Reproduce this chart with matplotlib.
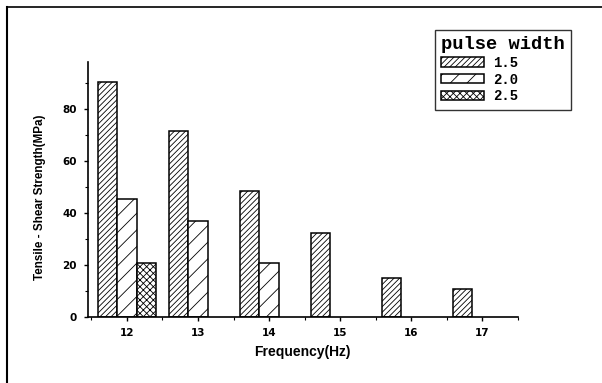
import numpy as np
import matplotlib.pyplot as plt
from matplotlib.lines import Line2D
from matplotlib.ticker import MultipleLocator

plt.rcParams['hatch.linewidth'] = 0.6

freq = [12, 13, 14, 15, 16, 17]
widths = ['1.5', '2.0', '2.5']
s15 = [90.5, 71.5, 48.5, 32.3, 15.0, 10.8]
s20 = [45.5, 37.0, 20.8, None, None, None]
s25 = [20.8, None, None, None, None, None]

fig = plt.figure(figsize=(6.02, 3.83), dpi=100)
ax = fig.add_axes([0.146, 0.172, 0.714, 0.666])

w = 0.275
x = np.array(freq, dtype=float)
series = [(s15, -w, '//////'), (s20, 0.0, '//'), (s25, w, 'xxxxx')]
handles = []
for vals, off, hatch in series:
    xs = [xi + off for xi, v in zip(x, vals) if v is not None]
    ys = [v for v in vals if v is not None]
    b = ax.bar(xs, ys, width=w, facecolor='white', edgecolor='black',
               hatch=hatch, linewidth=1.1)
    handles.append(b)

ax.set_xlim(11.45, 17.5)
ax.set_ylim(0, 98)
ax.set_xticks(freq)
ax.set_yticks([0, 20, 40, 60, 80])
ax.xaxis.set_minor_locator(MultipleLocator(0.5))
ax.yaxis.set_minor_locator(MultipleLocator(10))
for s in ['top', 'right']:
    ax.spines[s].set_visible(False)
for s in ['left', 'bottom']:
    ax.spines[s].set_linewidth(1.2)
ax.tick_params(axis='both', which='major', direction='out', length=3, width=1.0,
               labelsize=7.5)
ax.tick_params(axis='both', which='minor', direction='out', length=2, width=0.8)
for lab in ax.get_xticklabels() + ax.get_yticklabels():
    lab.set_fontweight('bold')
ax.tick_params(axis='x', pad=5)
ax.tick_params(axis='y', pad=5)

ax.set_ylabel('Tensile - Shear Strength(MPa)', fontsize=8.4, fontweight='bold',
              family='Liberation Sans')
ax.yaxis.set_label_coords(-0.098, 0.47)
ax.set_xlabel('Frequency(Hz)', fontsize=10, fontweight='bold',
              family='Liberation Sans', labelpad=5)

leg = fig.legend(handles, widths, loc='upper left',
                 bbox_to_anchor=(0.7226, 0.922), title='pulse width',
                 prop={'family': 'Liberation Mono', 'weight': 'bold', 'size': 10},
                 title_fontproperties={'family': 'Liberation Mono', 'weight': 'bold',
                                       'size': 13.5},
                 frameon=True, fancybox=False, edgecolor='black',
                 handlelength=3.1, handleheight=0.65, handletextpad=0.6,
                 labelspacing=0.2, borderpad=0.45, borderaxespad=0,
                 alignment='left')
leg.get_frame().set_linewidth(1.0)

# outer page frame
fig.add_artist(Line2D([0.011, 0.011], [0.0, 0.982], transform=fig.transFigure,
                      color='black', lw=1.5))
fig.add_artist(Line2D([0.011, 1.0], [0.982, 0.982], transform=fig.transFigure,
                      color='black', lw=1.2))

fig.savefig('out.png', dpi=100)
